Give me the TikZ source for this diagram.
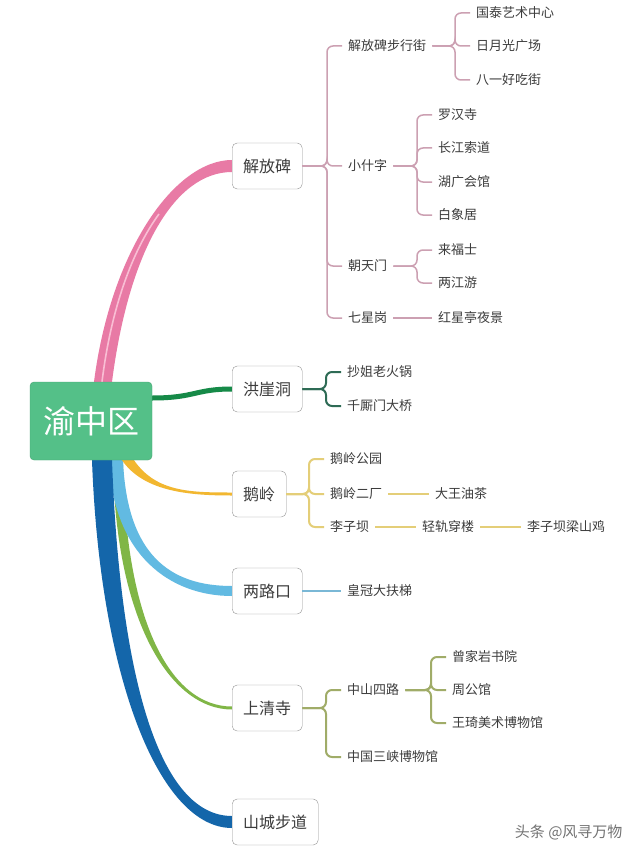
\documentclass[tikz,border=0pt]{standalone}
\usepackage{fontspec}
\setmainfont{Noto Sans CJK SC}
\usetikzlibrary{calc,backgrounds}
\definecolor{rootgreen}{RGB}{84,192,136}
\definecolor{jfbpink}{RGB}{232,122,165}
\definecolor{jfbstripe}{RGB}{249,190,212}
\definecolor{hydgreen}{RGB}{22,138,72}
\definecolor{elyellow}{RGB}{242,183,48}
\definecolor{lkkblue}{RGB}{98,186,226}
\definecolor{sqsgreen}{RGB}{128,182,70}
\definecolor{scbdblue}{RGB}{20,102,170}
\definecolor{jfbline}{RGB}{204,160,178}
\definecolor{hydline}{RGB}{46,107,85}
\definecolor{elline}{RGB}{228,206,120}
\definecolor{lkkline}{RGB}{122,184,214}
\definecolor{sqsline}{RGB}{160,172,104}
\definecolor{textgrey}{RGB}{60,60,60}

\tikzset{
  topic/.style={draw=gray!85, fill=white, rounded corners=5pt, inner xsep=11pt,
    minimum height=46pt, anchor=west, font=\fontsize{16}{18}\selectfont, text=textgrey},
  leaf/.style={inner xsep=6pt, inner ysep=2pt, anchor=west,
    font=\fontsize{13}{15}\selectfont, text=textgrey},
  twig/.style={rounded corners=6pt, line width=1.5pt}
}
% tapered main branch: colour, start, control 1, control 2, end, start half width, end half width
\newcommand{\mmbranch}[7]{%
  \fill[#1] ($(#2)-(#6,0)$) .. controls ($(#3)-(#6,0)$) and ($(#4)+(0,#7)$) .. ($(#5)+(0,#7)$)
    -- ($(#5)-(0,#7)$) .. controls ($(#4)-(0,#7)$) and ($(#3)+(#6,0)$) .. ($(#2)+(#6,0)$) -- cycle;}
% bracket line from a parent to a child
\newcommand{\twigto}[3]{\draw[twig,#1] (#2.east) -| ($(#3.west)+(-15,0)$) -- (#3.west);}

\begin{document}
\begin{tikzpicture}[x=1pt,y=-1pt]
\useasboundingbox (0,0) rectangle (640,853);

% centre
\node[fill=rootgreen, draw=rootgreen!85!black, rounded corners=4pt, minimum width=122pt,
  minimum height=78pt, text=white, font=\fontsize{32}{36}\selectfont] (root) at (91,421) {渝中区};

% main topics
\node[topic] (jfb) at (232,166) {解放碑};
\node[topic] (hyd) at (232,389) {洪崖洞};
\node[topic] (el) at (232,494) {鹅岭};
\node[topic] (lkk) at (232,591) {两路口};
\node[topic] (sqs) at (232,708) {上清寺};
\node[topic] (scbd) at (232,822) {山城步道};

% 解放碑
\foreach \n/\y/\t in {bxj/46/解放碑步行街, xsz/166/小什字, ctm/266/朝天门, qxg/318/七星岗}
  {\node[leaf] (\n) at (342,\y) {\t}; \twigto{jfbline}{jfb}{\n}}
\foreach \n/\y/\t in {gt/13/国泰艺术中心, ryg/46/日月光广场, by/80/八一好吃街}
  {\node[leaf] (\n) at (470,\y) {\t}; \twigto{jfbline}{bxj}{\n}}
\foreach \n/\y/\t in {lhs/115/罗汉寺, cjsd/148/长江索道, hggg/182/湖广会馆, bxjj/215/白象居}
  {\node[leaf] (\n) at (432,\y) {\t}; \twigto{jfbline}{xsz}{\n}}
\foreach \n/\y/\t in {lfs/250/来福士, ljy/283/两江游}
  {\node[leaf] (\n) at (432,\y) {\t}; \twigto{jfbline}{ctm}{\n}}
\node[leaf] (hxt) at (432,318) {红星亭夜景};
\draw[twig,jfbline] (qxg) -- (hxt);

% 洪崖洞
\foreach \n/\y/\t in {cjl/372/抄姐老火锅, qsm/406/千厮门大桥}
  {\node[leaf] (\n) at (341,\y) {\t}; \twigto{hydline,line width=2pt}{hyd}{\n}}

% 鹅岭
\foreach \n/\y/\t in {elgy/459/鹅岭公园, elec/494/鹅岭二厂, lzb/527/李子坝}
  {\node[leaf] (\n) at (324,\y) {\t}; \twigto{elline,line width=2pt}{el}{\n}}
\node[leaf] (dwyc) at (429,494) {大王油茶};
\node[leaf] (qgcl) at (416,527) {轻轨穿楼};
\node[leaf] (lzblsj) at (521,527) {李子坝梁山鸡};
\draw[twig,elline,line width=2pt] (elec) -- (dwyc);
\draw[twig,elline,line width=2pt] (lzb) -- (qgcl);
\draw[twig,elline,line width=2pt] (qgcl) -- (lzblsj);

% 两路口
\node[leaf] (hgdft) at (341,591) {皇冠大扶梯};
\draw[twig,lkkline] (lkk) -- (hgdft);

% 上清寺
\foreach \n/\y/\t in {zssl/690/中山四路, sxbwg/757/中国三峡博物馆}
  {\node[leaf] (\n) at (341,\y) {\t}; \twigto{sqsline,line width=2pt}{sqs}{\n}}
\foreach \n/\y/\t in {zjy/657/曾家岩书院, zgg/690/周公馆, wqms/723/王琦美术博物馆}
  {\node[leaf] (\n) at (446,\y) {\t}; \twigto{sqsline,line width=2pt}{zssl}{\n}}

\node[anchor=east, text=gray!90!black, font=\fontsize{15}{17}\selectfont] (mark) at (626,832) {头条 @风寻万物};

% thick branches behind the boxes
\begin{scope}[on background layer]
  \fill[white] (0,0) rectangle (640,853);
  \coordinate (s1) at ($(root.north)+(12,0)$);
  \coordinate (s2) at ($(root.east)+(0,-23)$);
  \coordinate (s3) at ($(root.south)+(37,0)$);
  \coordinate (s4) at ($(root.south)+(25,0)$);
  \coordinate (s5) at ($(root.south)+(27,0)$);
  \coordinate (s6) at ($(root.south)+(11,0)$);
  \mmbranch{jfbpink}{s1}{120,250}{175,166}{jfb.west}{9}{-6}
  \draw[jfbstripe, line width=1.6pt] ($(s1)+(-1,0)$) .. controls (111,309) and (132,251) .. (159,214);
  \draw[hydgreen, line width=5pt] (s2) .. controls (195,398) and (195,389) .. (hyd.west);
  \mmbranch{sqsgreen}{s5}{120,620}{170,708}{sqs.west}{5}{1.5}
  \mmbranch{lkkblue}{s4}{120,555}{170,591}{lkk.west}{7}{5}
  \mmbranch{elyellow}{s3}{150,492}{190,494}{el.west}{6}{1.5}
  \mmbranch{scbdblue}{s6}{110,680}{160,822}{scbd.west}{10}{6}
\end{scope}
\end{tikzpicture}
\end{document}
